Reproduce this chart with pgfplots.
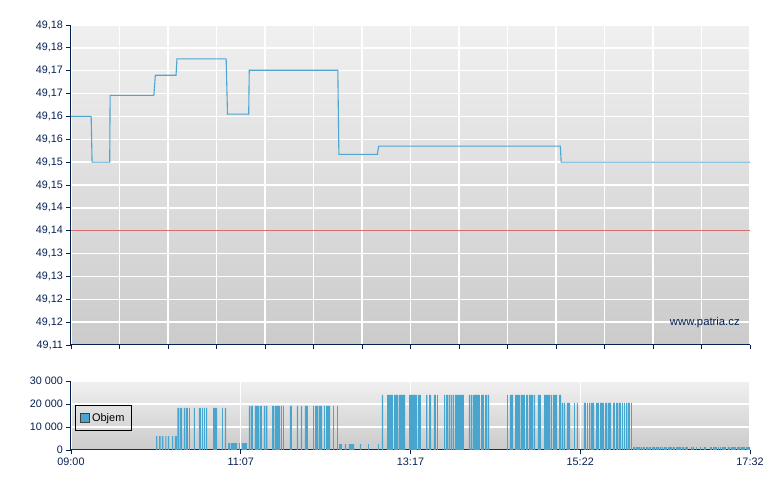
\documentclass[border=0pt]{standalone}
\usepackage{pgfplots}
\pgfplotsset{compat=1.18}
\usepackage{pgfplotstable}
\usepackage{fontspec}
\setmainfont{Liberation Sans}
\definecolor{navy}{RGB}{5,32,82}
\definecolor{barblue}{RGB}{72,166,206}
\definecolor{lineblue}{RGB}{78,166,208}
\definecolor{refred}{RGB}{214,112,112}
\definecolor{bgtop}{RGB}{240,240,240}
\definecolor{bgbot}{RGB}{203,203,203}

\pgfplotstableread{
x y
0 0
64.1 6000
65.1 0
66.4 6000
67.6 0
68.6 6000
69.6 0
71.1 6000
71.9 0
73.1 6000
73.9 0
76.2 6000
77.1 0
78.4 6000
79.9 0
80.2 18300
81.7 0
82.2 18300
83.7 0
85.2 18300
86.0 0
86.7 18300
88.2 0
89.0 18300
89.7 0
92.7 18300
93.5 0
96.5 18300
98.0 0
98.8 18300
99.5 0
100.3 18300
101.0 0
101.8 18300
102.6 0
107.1 18300
110.1 0
113.9 18300
114.6 0
116.1 18300
116.9 0
118.4 3000
119.9 0
120.6 3000
125.2 0
126.7 3000
127.4 0
128.9 3000
132.7 0
134.2 19200
135.0 0
135.7 19200
137.2 0
138.7 19200
141.8 0
142.5 19200
144.0 0
145.5 19200
146.3 0
147.0 19200
148.0 0
151.6 19200
153.1 0
153.8 19200
157.6 0
158.4 19200
159.1 0
159.9 19200
160.6 0
165.1 19200
166.6 0
170.4 19200
171.2 0
173.4 19200
174.2 0
176.4 19200
178.7 0
182.5 19200
183.2 0
184.0 19200
186.3 0
187.0 19200
189.3 0
190.8 19200
191.5 0
192.3 19200
195.3 0
197.6 19200
198.3 0
200.6 19200
201.3 0
202.1 2600
204.3 0
206.6 2600
207.4 0
209.6 2600
213.4 0
217.9 2600
218.7 0
224.0 2600
224.7 0
231.5 2600
232.2 0
234.5 24000
235.3 0
238.3 24000
242.8 0
243.6 24000
246.6 0
247.3 24000
251.9 0
254.9 24000
260.9 0
261.7 24000
263.9 0
267.7 24000
268.7 0
270.0 24000
271.5 0
273.7 24000
275.2 0
276.0 24000
276.7 0
281.3 24000
282.2 0
282.8 24000
284.3 0
285.0 24000
285.8 0
286.5 24000
287.3 0
288.0 24000
288.8 0
289.6 24000
296.3 0
300.1 24000
300.9 0
301.6 24000
302.4 0
303.1 24000
308.4 0
309.2 24000
311.4 0
312.2 24000
313.7 0
314.4 24000
315.2 0
328.8 24000
329.5 0
331.0 24000
333.3 0
334.8 24000
338.6 0
339.3 24000
342.3 0
343.1 24000
344.6 0
345.4 24000
348.4 0
349.1 24000
349.9 0
352.1 24000
354.4 0
356.7 24000
361.2 0
361.9 24000
362.7 0
363.5 24000
366.5 0
368.0 24000
369.5 0
370.2 20500
371.0 0
371.7 20500
372.5 0
374.0 20500
376.3 0
379.3 20500
380.0 0
381.5 20500
382.3 0
386.8 20500
388.3 0
389.1 20500
389.8 0
390.6 20500
391.4 0
392.1 20500
394.4 0
395.9 20500
398.1 0
398.9 20500
401.9 0
402.7 20500
404.2 0
404.9 20500
407.2 0
408.7 20500
410.2 0
411.0 20500
412.5 0
413.2 20500
414.7 0
415.5 20500
416.2 0
417.0 20500
417.7 0
418.5 20500
419.3 0
420.0 20500
421.5 0
422.3 20500
423.0 0
423.8 1300
425.3 0
426.0 1300
429.1 0
429.8 1300
430.6 0
431.3 1300
432.8 0
433.6 1300
435.1 0
435.8 1300
437.3 0
438.1 1300
440.4 0
441.1 1300
443.4 0
444.1 1300
444.9 0
445.6 1300
446.4 0
447.2 1300
449.4 0
450.2 1300
453.2 0
453.9 1300
455.4 0
456.2 1300
460.0 0
460.7 1300
462.2 0
463.0 1300
465.2 0
467.5 1300
468.3 0
469.0 1300
469.8 0
471.3 1300
472.0 0
474.3 1300
475.1 0
477.3 1300
478.8 0
481.8 1300
483.3 0
484.1 1300
487.1 0
487.9 1300
488.6 0
489.4 1300
490.1 0
490.9 1300
493.9 0
495.4 1300
496.9 0
497.7 1300
501.4 0
502.2 1300
504.5 0
505.2 1300
508.2 0
509.0 1300
512 1300
}\voltable

\pgfplotstableread{
x y
0 49.1600
15.2 49.1600
15.9 49.1500
29.2 49.1500
29.5 49.1646
62.5 49.1646
63.6 49.1690
79.2 49.1690
79.9 49.1726
117.0 49.1726
118.0 49.1605
134.0 49.1605
134.4 49.1701
201.2 49.1701
202.0 49.1517
231.0 49.1517
232.0 49.1535
369.0 49.1535
369.6 49.1500
512 49.1500
}\pricetable

\pgfplotsset{
  patria/.style={
    scale only axis,
    width=679pt,
    xmin=0, xmax=512,
    axis lines=left,
    axis line style={-, navy, line width=1pt},
    tick align=outside,
    major tick length=4.5pt,
    tick style={navy, line width=0.9pt},
    grid=major,
    major grid style={white, line width=1.3pt},
    axis background/.style={shade, top color=bgtop, bottom color=bgbot},
    tick label style={font=\fontsize{10.8}{12}\selectfont, text=navy},
    scaled ticks=false,
    clip=true,
  }
}

\begin{document}
\begin{tikzpicture}
\path[use as bounding box] (0,0) rectangle (780pt,490pt);
% upper price chart
\begin{axis}[patria,
  at={(71pt,145pt)}, anchor=south west,
  height=320pt,
  ymin=49.11, ymax=49.18,
  xtick={0,36.571,73.143,109.714,146.286,182.857,219.429,256,292.571,329.143,365.714,402.286,438.857,475.429,512},
  xticklabels={},
  ytick={49.11,49.115,49.12,49.125,49.13,49.135,49.14,49.145,49.15,49.155,49.16,49.165,49.17,49.175,49.18},
  yticklabels={49{,}11,49{,}12,49{,}12,49{,}13,49{,}13,49{,}14,49{,}14,49{,}15,49{,}15,49{,}16,49{,}16,49{,}17,49{,}17,49{,}18,49{,}18},
]
\addplot[refred, line width=0.9pt] coordinates {(0,49.135) (512,49.135)};
\addplot[lineblue, line width=1.1pt] table[x=x, y=y] {\pricetable};
\node[anchor=east, text=navy, font=\fontsize{11.3}{13}\selectfont] at (rel axis cs:0.99,0.069) {www.patria.cz};
\end{axis}
% lower volume chart
\begin{axis}[patria,
  at={(71pt,40pt)}, anchor=south west,
  height=69pt,
  ymin=0, ymax=30000,
  xtick={0,128,256,384,512},
  xticklabels={09:00,11:07,13:17,15:22,17:32},
  ytick={0,10000,20000,30000},
  yticklabels={0,10 000,20 000,30 000},
  legend style={at={(rel axis cs:0.006,0.655)}, anchor=north west,
    fill=none, draw=black, line width=0.8pt,
    font=\fontsize{11}{13}\selectfont, inner xsep=5pt, inner ysep=6pt,
    cells={anchor=west}},
  legend cell align=left,
]
\addplot[const plot mark left, fill=barblue, draw=none,
  legend image code/.code={\draw[fill=barblue, draw=black!75, line width=0.6pt] (0pt,-4.5pt) rectangle (9pt,4.5pt);}]
  table[x=x, y=y] {\voltable} \closedcycle;
\addlegendentry{Objem}
\end{axis}
\end{tikzpicture}
\end{document}
